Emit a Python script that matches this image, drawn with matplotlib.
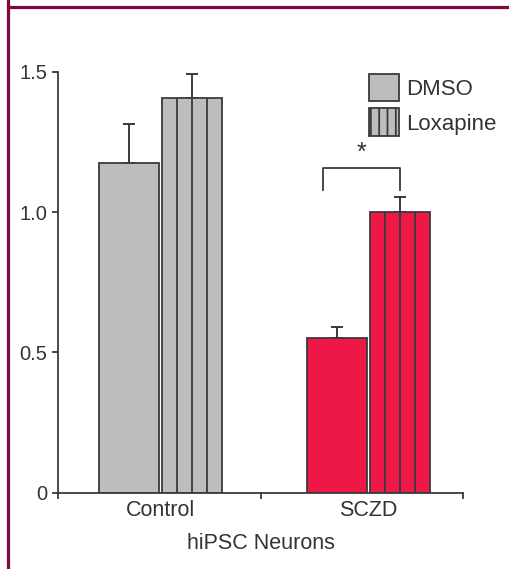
import matplotlib
matplotlib.use('Agg')
import matplotlib.pyplot as plt
from matplotlib.patches import Patch
from matplotlib.lines import Line2D

plt.rcParams['font.family'] = ['Liberation Sans', 'DejaVu Sans']

# data
groups = ['Control', 'SCZD']
dmso = [1.176, 0.550]
dmso_err = [0.137, 0.041]
loxapine = [1.405, 1.001]
loxapine_err = [0.087, 0.052]
dmso_colors = ['#bdbdc0', '#ee1846']
lox_colors = ['#bdbdc0', '#ee1846']

edge = '#3a3a3a'
W, H = 509, 569
fig = plt.figure(figsize=(W / 100, H / 100), dpi=100)
ax = fig.add_axes([58 / W, (H - 492.7) / H, 405 / W, (492.7 - 71.7) / H])

x = list(range(len(groups)))
bw = 0.288
off = 0.15
xd = [i - off for i in x]
xl = [i + off for i in x]

ax.bar(xd, dmso, bw, color=dmso_colors, edgecolor=edge, linewidth=1.3, zorder=2)
ax.bar(xl, loxapine, bw, color=lox_colors, edgecolor=edge, linewidth=1.3, zorder=2)

# vertical stripes in loxapine bars
for xi, h in zip(xl, loxapine):
    for k in (-0.25, 0.0, 0.25):
        ax.vlines(xi + k * bw, 0, h, color=edge, linewidth=1.3, zorder=3)

ek = dict(fmt='none', ecolor=edge, elinewidth=1.4, capsize=4.5, capthick=1.4, zorder=1)
ax.errorbar(xd, dmso, yerr=[[0] * len(dmso), dmso_err], **ek)
ax.errorbar(xl, loxapine, yerr=[[0] * len(loxapine), loxapine_err], **ek)

# significance bracket
bx0, bx1 = 0.78, xl[1]
by, byl = 1.156, 1.078
ax.plot([bx0, bx0, bx1, bx1], [byl, by, by, byl], color=edge, linewidth=1.3)
ax.text((bx0 + bx1) / 2, by + 0.012, '*', ha='center', va='bottom', fontsize=18, color='#333333')

ax.set_xlim(-0.493, 1.454)
ax.set_ylim(0, 1.5)
ax.set_yticks([0, 0.5, 1.0, 1.5])
ax.set_yticklabels(['0', '0.5', '1.0', '1.5'])
ax.set_xticks([-0.493, 0.482, 1.454])
ax.set_xticklabels([])
ax.set_xticks(x, minor=True)
ax.set_xticklabels(groups, minor=True)
ax.tick_params(axis='x', which='minor', length=0, pad=5, labelsize=15.5, labelcolor='#333333')
ax.tick_params(axis='x', which='major', length=4, width=1.3, color=edge)
ax.tick_params(axis='y', length=4.5, width=1.3, color=edge, labelsize=14.5, labelcolor='#333333', pad=3)
ax.set_xlabel('hiPSC Neurons', fontsize=15.5, color='#333333', labelpad=9)
for s in ['top', 'right']:
    ax.spines[s].set_visible(False)
for s in ['left', 'bottom']:
    ax.spines[s].set_color(edge)
    ax.spines[s].set_linewidth(1.3)

plt.rcParams['hatch.color'] = edge
plt.rcParams['hatch.linewidth'] = 1.3
handles = [Patch(facecolor='#bdbdc0', edgecolor=edge, linewidth=1.3, label='DMSO'),
           Patch(facecolor='#bdbdc0', edgecolor=edge, linewidth=1.3, hatch='||', label='Loxapine')]
leg = ax.legend(handles=handles, loc='upper left', bbox_to_anchor=(0.74, 1.022), frameon=False,
                fontsize=16, handlelength=1.35, handleheight=1.55, handletextpad=0.35,
                labelspacing=0.32, borderpad=0)
for t in leg.get_texts():
    t.set_color('#333333')

# frame lines
border = '#7d0a3e'
fig.add_artist(Line2D([7.5 / W, 7.5 / W], [0, 1], color=border, linewidth=2.3, transform=fig.transFigure))
fig.add_artist(Line2D([7.5 / W, 1], [1 - 6.5 / H, 1 - 6.5 / H], color=border, linewidth=2.3, transform=fig.transFigure))

fig.savefig('out.png', dpi=100)
